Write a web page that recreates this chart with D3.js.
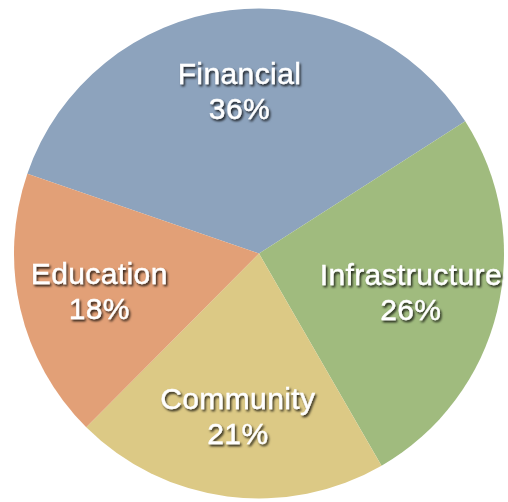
<!DOCTYPE html>
<html>
<head>
<meta charset="utf-8">
<script src="https://cdn.jsdelivr.net/npm/d3@7"></script>
<style>
  html, body { margin: 0; padding: 0; background: #ffffff; }
  svg { display: block; }
</style>
</head>
<body>
<svg id="chart" width="508" height="502"></svg>
<script>
// Budget share by area
const categories = ["Financial", "Infrastructure", "Community", "Education"];
const shares = [36, 26, 21, 18];
const colors = ["#8da3bd", "#a0bb7e", "#dcc985", "#e2a077"];

const width = 508, height = 502;
const cx = 259, cy = 253.5, radius = 245;
const labelRadius = 164;

const svg = d3.select("#chart");

// soft dark drop shadow under the white labels
const defs = svg.append("defs");
const shadow = defs.append("filter")
  .attr("id", "labelShadow")
  .attr("x", "-20%").attr("y", "-40%")
  .attr("width", "140%").attr("height", "180%");
shadow.append("feDropShadow")
  .attr("dx", 1.5).attr("dy", 2)
  .attr("stdDeviation", 1.3)
  .attr("flood-color", "#000")
  .attr("flood-opacity", 0.8);

const data = categories.map((c, i) => ({ name: c, value: shares[i], color: colors[i] }));

const startDeg = -71;
const pie = d3.pie()
  .value(d => d.value)
  .sort(null)
  .startAngle(startDeg * Math.PI / 180)
  .endAngle((startDeg + 360) * Math.PI / 180);

const arc = d3.arc().innerRadius(0).outerRadius(radius);
const labelArc = d3.arc().innerRadius(labelRadius).outerRadius(labelRadius);

const g = svg.append("g").attr("transform", `translate(${cx},${cy})`);

const arcs = pie(data);

g.selectAll("path.slice")
  .data(arcs)
  .join("path")
  .attr("class", "slice")
  .attr("d", arc)
  .attr("fill", d => d.data.color);

const labels = g.selectAll("text.label")
  .data(arcs)
  .join("text")
  .attr("class", "label")
  .attr("text-anchor", "middle")
  .attr("fill", "#ffffff")
  .attr("stroke", "#ffffff")
  .attr("stroke-width", 0.35)
  .attr("font-family", "'Liberation Sans', Arial, Helvetica, sans-serif")
  .attr("font-size", 30)
  .attr("letter-spacing", 0.4)
  .attr("filter", "url(#labelShadow)");

labels.append("tspan")
  .attr("class", "name")
  .attr("x", 0).attr("y", -7)
  .text(d => d.data.name);
labels.append("tspan")
  .attr("class", "pct")
  .attr("x", 0).attr("y", 28)
  .text(d => d.data.value + "%");

// place each label at its slice centroid, nudged inward so it stays on the canvas
labels.each(function(d) {
  const [lx, ly] = labelArc.centroid(d);
  const w = d3.select(this).select("tspan.name").node().getComputedTextLength();
  let x = lx;
  const maxRight = width - 6 - cx;
  const minLeft = 6 - cx;
  if (x + w / 2 > maxRight) x = maxRight - w / 2;
  if (x - w / 2 < minLeft) x = minLeft + w / 2;
  d3.select(this).attr("transform", `translate(${x},${ly})`);
});
</script>
</body>
</html>
